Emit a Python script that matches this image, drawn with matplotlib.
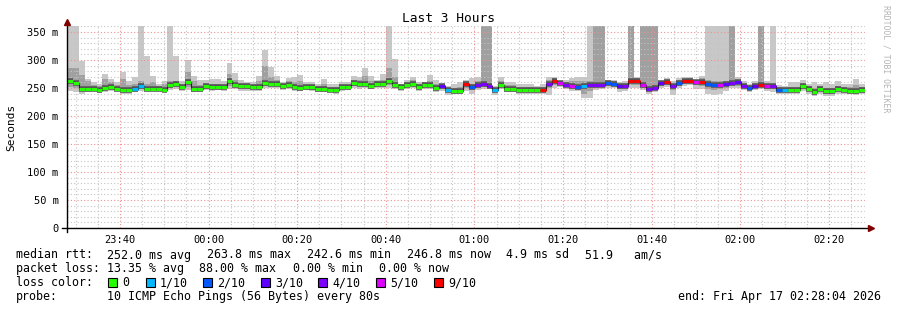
import numpy as np
import pandas as pd
import matplotlib
matplotlib.use('Agg')
import matplotlib.pyplot as plt
import matplotlib.dates as mdates
from matplotlib.ticker import MultipleLocator, FuncFormatter

# Dados (passos de 80 s, ms)
inicio = '2026-04-16 23:28:04'
passos = 135

rtt_mediana = [
    263, 259, 249, 249, 249, 246, 250, 252, 249, 246,
    246, 248, 254, 249, 249, 249, 247, 256, 257, 251,
    260, 248, 248, 253, 251, 252, 252, 262, 256, 253,
    253, 251, 251, 259, 257, 257, 253, 256, 251, 250,
    252, 251, 248, 249, 247, 246, 251, 252, 259, 257,
    258, 254, 257, 258, 263, 256, 251, 256, 257, 251,
    256, 256, 250, 253, 246, 245, 244, 257, 251, 255,
    257, 254, 246, 256, 249, 249, 247, 246, 246, 246,
    246, 257, 262, 259, 255, 253, 251, 253, 255, 255,
    256, 259, 257, 253, 253, 263, 262, 255, 248, 250,
    259, 261, 254, 259, 262, 263, 260, 260, 257, 255,
    256, 257, 259, 260, 254, 250, 254, 256, 253, 253,
    247, 246, 246, 246, 253, 248, 243, 248, 244, 244,
    248, 246, 245, 245, 246]

perda = [
    0, 0, 0, 0, 0, 0, 0, 0, 0, 0,
    0, 1, 1, 0, 0, 0, 0, 0, 0, 0,
    0, 0, 0, 0, 0, 0, 0, 0, 0, 0,
    0, 0, 0, 0, 0, 0, 0, 0, 0, 0,
    0, 0, 0, 0, 0, 0, 0, 0, 0, 0,
    0, 0, 0, 0, 0, 0, 0, 0, 0, 0,
    0, 0, 0, 3, 1, 0, 0, 9, 2, 4,
    4, 4, 1, 0, 0, 0, 0, 0, 0, 0,
    9, 4, 9, 5, 4, 5, 2, 1, 4, 4,
    4, 2, 2, 3, 4, 9, 9, 5, 4, 4,
    3, 9, 4, 2, 9, 9, 5, 9, 2, 2,
    5, 3, 4, 3, 4, 2, 3, 9, 5, 4,
    2, 1, 0, 0, 0, 0, 0, 0, 0, 0,
    0, 0, 0, 0, 0]

ping_max = [
    360, 360, 298, 266, 260, 258, 275, 266, 260, 278,
    262, 270, 360, 307, 271, 258, 262, 360, 307, 262,
    300, 272, 264, 264, 266, 266, 262, 295, 277, 264,
    261, 260, 272, 318, 288, 272, 260, 268, 270, 273,
    260, 260, 258, 266, 257, 257, 261, 260, 272, 270,
    286, 272, 264, 275, 360, 302, 257, 264, 270, 260,
    260, 273, 264, 257, 254, 257, 260, 264, 268, 270,
    360, 360, 254, 270, 260, 261, 257, 257, 257, 254,
    258, 270, 270, 260, 264, 268, 270, 270, 360, 360,
    360, 264, 264, 260, 262, 360, 270, 360, 360, 360,
    260, 268, 262, 268, 270, 270, 265, 272, 360, 360,
    360, 360, 360, 270, 262, 258, 262, 360, 262, 360,
    256, 254, 260, 261, 265, 258, 260, 258, 260, 258,
    262, 257, 257, 266, 258]

ping_q_alto = [
    285, 286, 273, 262, 256, 253, 266, 260, 255, 266,
    256, 258, 262, 258, 260, 254, 258, 262, 262, 256,
    278, 262, 256, 258, 258, 258, 256, 275, 265, 258,
    257, 256, 262, 290, 270, 264, 257, 262, 260, 262,
    256, 256, 254, 258, 252, 252, 256, 256, 265, 264,
    272, 262, 262, 264, 285, 270, 254, 260, 264, 256,
    260, 262, 258, 255, 250, 250, 252, 262, 258, 262,
    360, 360, 250, 262, 255, 256, 252, 252, 252, 250,
    252, 265, 267, 262, 260, 262, 262, 262, 262, 360,
    360, 263, 262, 258, 258, 360, 268, 360, 360, 360,
    262, 265, 258, 264, 266, 268, 264, 268, 264, 262,
    262, 262, 360, 265, 258, 255, 258, 360, 258, 258,
    252, 250, 252, 252, 258, 253, 250, 253, 250, 250,
    254, 252, 252, 255, 252]

ping_q_baixo = [
    252, 250, 245, 246, 246, 243, 246, 248, 246, 243,
    243, 245, 249, 246, 246, 246, 244, 250, 252, 248,
    252, 245, 245, 249, 248, 248, 248, 254, 251, 249,
    249, 248, 247, 254, 253, 253, 250, 252, 248, 247,
    249, 247, 245, 246, 244, 243, 248, 249, 254, 253,
    254, 251, 253, 254, 256, 251, 248, 252, 253, 248,
    252, 252, 247, 249, 243, 243, 242, 250, 246, 250,
    252, 250, 243, 252, 246, 246, 244, 243, 243, 243,
    243, 250, 256, 255, 251, 249, 247, 240, 245, 250,
    251, 254, 253, 248, 249, 255, 256, 250, 244, 246,
    254, 256, 246, 254, 257, 259, 255, 254, 248, 246,
    248, 250, 253, 254, 250, 246, 250, 251, 249, 248,
    244, 243, 243, 243, 249, 244, 238, 244, 240, 240,
    244, 243, 242, 242, 243]

ping_min = [
    244, 242, 240, 243, 244, 241, 243, 245, 244, 240,
    240, 242, 244, 244, 244, 244, 242, 246, 248, 245,
    246, 243, 243, 246, 245, 246, 245, 248, 248, 245,
    245, 244, 244, 250, 250, 250, 247, 249, 245, 245,
    246, 244, 242, 243, 242, 240, 245, 246, 250, 249,
    250, 248, 250, 250, 250, 248, 244, 248, 250, 244,
    248, 248, 243, 244, 238, 240, 240, 244, 240, 246,
    248, 248, 238, 248, 243, 243, 240, 240, 240, 240,
    240, 238, 250, 252, 248, 245, 244, 232, 232, 247,
    248, 250, 250, 243, 245, 250, 250, 246, 240, 242,
    250, 252, 238, 250, 253, 256, 248, 248, 240, 238,
    240, 245, 250, 250, 246, 242, 246, 248, 245, 243,
    240, 240, 240, 240, 245, 240, 236, 240, 236, 236,
    240, 240, 239, 238, 240]

cores_perda = {0: '#26ff00', 1: '#00b8ff', 2: '#0059ff', 3: '#5e00ff',
               4: '#7e00ff', 5: '#dd00ff', 9: '#ff0000'}
rotulos_perda = ['0', '1/10', '2/10', '3/10', '4/10', '5/10', '9/10']

W, H = 897, 310
fig = plt.figure(figsize=(W / 100, H / 100), dpi=100)
fig.patch.set_facecolor('white')

# Eixo posicionado em pixels
ax = fig.add_axes([67 / W, (H - 228) / H, 797.7 / W, (228 - 26.4) / H])

tempos = pd.date_range(inicio, periods=passos, freq='80s')
x = mdates.date2num(tempos)
passo = 80 / 86400.0

mediana = np.array(rtt_mediana, dtype=float)
pmax = np.array(ping_max, dtype=float)
pmin = np.array(ping_min, dtype=float)
qa = np.array(ping_q_alto, dtype=float)
qb = np.array(ping_q_baixo, dtype=float)

# Fumaça
ax.bar(x, pmax - pmin, bottom=pmin, width=passo, align='edge',
       color='#c8c8c8', linewidth=0, zorder=1)
ax.bar(x, qa - qb, bottom=qb, width=passo, align='edge',
       color='#a0a0a0', linewidth=0, zorder=2)

# Grade (desenhada por cima, como no rrdtool)
ax.set_ylim(0, 360)
ax.set_xlim(x[0], x[0] + passos * passo)
ax.yaxis.set_major_locator(MultipleLocator(50))
ax.yaxis.set_minor_locator(MultipleLocator(10))
ax.xaxis.set_major_locator(mdates.MinuteLocator(byminute=[0, 20, 40]))
ax.xaxis.set_minor_locator(mdates.MinuteLocator(byminute=range(0, 60, 5)))
ax.xaxis.set_major_formatter(mdates.DateFormatter('%H:%M'))
ax.yaxis.set_major_formatter(FuncFormatter(lambda v, p: '0' if v == 0 else '%d m' % v))
ax.set_axisbelow(False)
ax.grid(which='minor', color='#c4c4c4', linestyle=(0, (1, 2)), linewidth=0.8, zorder=3)
ax.grid(which='major', color='#f09090', linestyle=(0, (1, 2)), linewidth=0.8, zorder=3)

# Mediana colorida pela perda, com fumaça escura em volta
ax.hlines(mediana, x, x + passo, colors='#555555', linewidth=4.0,
          capstyle='butt', zorder=4)
ax.step(np.append(x, x[-1] + passo), np.append(mediana, mediana[-1]), where='post',
        color='#202020', linewidth=0.8, zorder=4)
ax.hlines(mediana, x, x + passo, colors=[cores_perda[p] for p in perda],
          linewidth=2.2, capstyle='butt', zorder=5)

for s in ax.spines.values():
    s.set_visible(False)
ax.tick_params(which='both', length=0)
ax.tick_params(axis='y', pad=6, labelsize=7.5)
ax.tick_params(axis='x', pad=5, labelsize=7.5)
for lab in ax.get_xticklabels() + ax.get_yticklabels():
    lab.set_fontfamily('DejaVu Sans Mono')

# Eixos com setas
ax.plot([-0.006, 1.006], [0, 0], color='black', lw=1, transform=ax.transAxes, clip_on=False, zorder=6)
ax.plot([0, 0], [-0.02, 1.01], color='black', lw=1, transform=ax.transAxes, clip_on=False, zorder=6)
ax.plot([0], [1.02], marker='^', markersize=4, color='#800000', transform=ax.transAxes, clip_on=False, zorder=7)
ax.plot([1.008], [0], marker='>', markersize=4, color='#800000', transform=ax.transAxes, clip_on=False, zorder=7)

mono = 'DejaVu Sans Mono'


def txt(px, py, s, **kw):
    kw.setdefault('fontsize', 8.35)
    kw.setdefault('family', mono)
    kw.setdefault('va', 'center')
    fig.text(px / W, 1 - py / H, s, **kw)


txt(448, 19, 'Last 3 Hours', fontsize=9.3, ha='center')
txt(11, 127, 'Seconds', fontsize=8, ha='center', rotation=90)
txt(886, 59, 'RRDTOOL / TOBI OETIKER', fontsize=5.9, ha='center', rotation=270, color='#b4b4b4')

txt(16, 255, 'median rtt:')
for px, s in zip([107, 207, 307, 407, 506, 585],
                 ['252.0 ms avg', '263.8 ms max', '242.6 ms min', '246.8 ms now',
                  '4.9 ms sd', '51.9   am/s']):
    txt(px, 255, s)

txt(16, 268.5, 'packet loss:')
for px, s in zip([107, 199, 293, 379],
                 ['13.35 % avg', '88.00 % max', '0.00 % min', '0.00 % now']):
    txt(px, 268.5, s)

txt(16, 282.5, 'loss color:')
for px, k, lab in zip([108, 146, 203, 261, 318, 376, 434], [0, 1, 2, 3, 4, 5, 9], rotulos_perda):
    fig.patches.append(plt.Rectangle((px / W, 1 - 287 / H), 9 / W, 9 / H,
                                     transform=fig.transFigure, facecolor=cores_perda[k],
                                     edgecolor='black', linewidth=0.8))
    txt(px + 14, 282.5, lab)

txt(16, 296.5, 'probe:')
txt(107, 296.5, '10 ICMP Echo Pings (56 Bytes) every 80s')
txt(678, 296.5, 'end: Fri Apr 17 02:28:04 2026')

fig.savefig('out.png', dpi=100, facecolor='white')
